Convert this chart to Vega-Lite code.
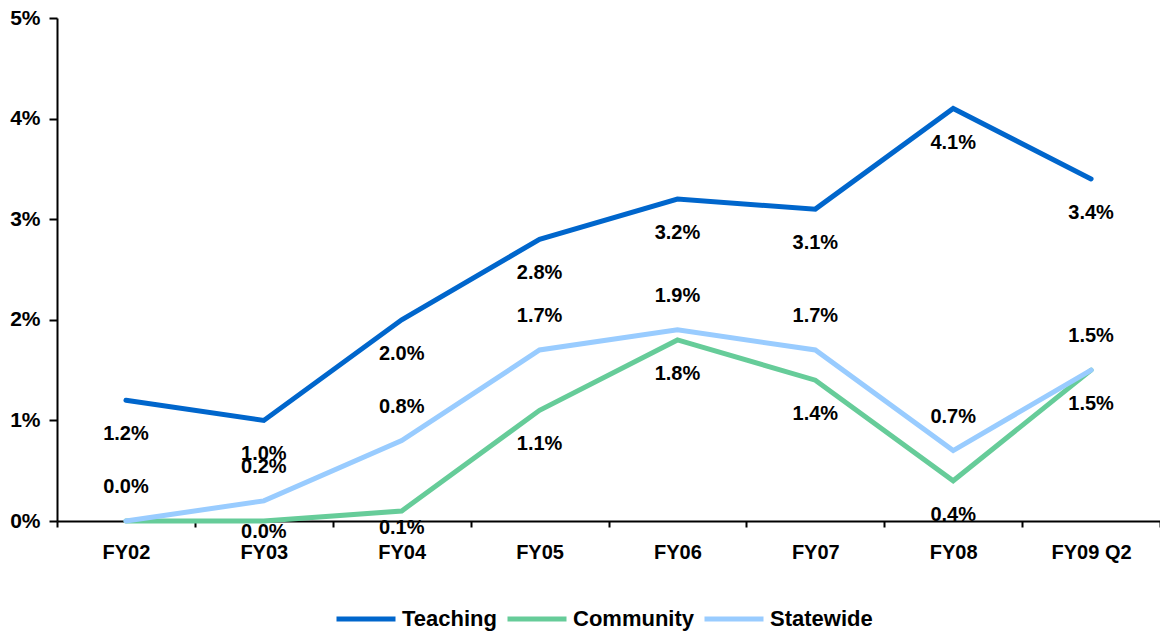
{
  "$schema": "https://vega.github.io/schema/vega-lite/v6.json",
  "autosize": {"type": "none"},
  "width": 1103,
  "height": 503,
  "padding": {"left": 57, "top": 18, "right": 0, "bottom": 111},
  "background": "white",
  "data": {
    "values": [
      {"period": "FY02", "series": "Teaching", "value": 0.012},
      {"period": "FY03", "series": "Teaching", "value": 0.010},
      {"period": "FY04", "series": "Teaching", "value": 0.020},
      {"period": "FY05", "series": "Teaching", "value": 0.028},
      {"period": "FY06", "series": "Teaching", "value": 0.032},
      {"period": "FY07", "series": "Teaching", "value": 0.031},
      {"period": "FY08", "series": "Teaching", "value": 0.041},
      {"period": "FY09 Q2", "series": "Teaching", "value": 0.034},
      {"period": "FY02", "series": "Community", "value": 0.000},
      {"period": "FY03", "series": "Community", "value": 0.000},
      {"period": "FY04", "series": "Community", "value": 0.001},
      {"period": "FY05", "series": "Community", "value": 0.011},
      {"period": "FY06", "series": "Community", "value": 0.018},
      {"period": "FY07", "series": "Community", "value": 0.014},
      {"period": "FY08", "series": "Community", "value": 0.004},
      {"period": "FY09 Q2", "series": "Community", "value": 0.015},
      {"period": "FY02", "series": "Statewide", "value": 0.000},
      {"period": "FY03", "series": "Statewide", "value": 0.002},
      {"period": "FY04", "series": "Statewide", "value": 0.008},
      {"period": "FY05", "series": "Statewide", "value": 0.017},
      {"period": "FY06", "series": "Statewide", "value": 0.019},
      {"period": "FY07", "series": "Statewide", "value": 0.017},
      {"period": "FY08", "series": "Statewide", "value": 0.007},
      {"period": "FY09 Q2", "series": "Statewide", "value": 0.015}
    ]
  },
  "encoding": {
    "x": {
      "field": "period",
      "type": "nominal",
      "sort": null,
      "scale": {"type": "band", "paddingInner": 0, "paddingOuter": 0},
      "axis": {
        "title": null,
        "labelAngle": 0,
        "tickBand": "extent",
        "tickSize": 6,
        "labelPadding": 15,
        "labelFontSize": 20
      }
    },
    "y": {
      "field": "value",
      "type": "quantitative",
      "scale": {"domain": [0, 0.05], "nice": false, "zero": true},
      "axis": {
        "title": null,
        "format": ".0%",
        "values": [0, 0.01, 0.02, 0.03, 0.04, 0.05],
        "grid": false,
        "tickSize": 8,
        "labelPadding": 9,
        "labelFontSize": 21
      }
    }
  },
  "layer": [
    {
      "mark": {"type": "line", "strokeWidth": 5, "strokeCap": "round", "strokeJoin": "miter"},
      "encoding": {
        "color": {
          "field": "series",
          "type": "nominal",
          "scale": {
            "domain": ["Teaching", "Community", "Statewide"],
            "range": ["#0066CC", "#66CC99", "#99CCFF"]
          },
          "legend": {
            "title": null,
            "orient": "none",
            "direction": "horizontal",
            "legendX": 277,
            "legendY": 569,
            "symbolType": "stroke",
            "symbolSize": 3481,
            "symbolStrokeWidth": 5,
            "labelFontSize": 22,
            "labelOffset": 4,
            "columnPadding": 0
          }
        }
      }
    },
    {
      "transform": [{"filter": "datum.series === 'Teaching'"}],
      "mark": {"type": "text", "dy": 34},
      "encoding": {"text": {"field": "value", "type": "quantitative", "format": ".1%"}}
    },
    {
      "transform": [{"filter": "datum.series === 'Statewide'"}],
      "mark": {"type": "text", "dy": -34},
      "encoding": {"text": {"field": "value", "type": "quantitative", "format": ".1%"}}
    },
    {
      "transform": [{"filter": "datum.series === 'Community' && indexof(['FY02', 'FY03', 'FY04'], datum.period) < 0"}],
      "mark": {"type": "text", "dy": 34},
      "encoding": {"text": {"field": "value", "type": "quantitative", "format": ".1%"}}
    },
    {
      "transform": [{"filter": "datum.series === 'Community' && datum.period === 'FY03'"}],
      "mark": {"type": "text", "dy": 11},
      "encoding": {"text": {"field": "value", "type": "quantitative", "format": ".1%"}}
    },
    {
      "transform": [{"filter": "datum.series === 'Community' && datum.period === 'FY04'"}],
      "mark": {"type": "text", "dy": 17},
      "encoding": {"text": {"field": "value", "type": "quantitative", "format": ".1%"}}
    }
  ],
  "config": {
    "font": "Liberation Sans",
    "view": {"stroke": null},
    "text": {"fontSize": 20, "fontWeight": "bold", "color": "black", "font": "Liberation Sans"},
    "axis": {
      "domainColor": "black",
      "domainWidth": 2,
      "tickColor": "black",
      "tickWidth": 2,
      "labelColor": "black",
      "labelFont": "Liberation Sans",
      "labelFontWeight": "bold"
    },
    "legend": {
      "labelColor": "black",
      "labelFont": "Liberation Sans",
      "labelFontWeight": "bold"
    }
  }
}
